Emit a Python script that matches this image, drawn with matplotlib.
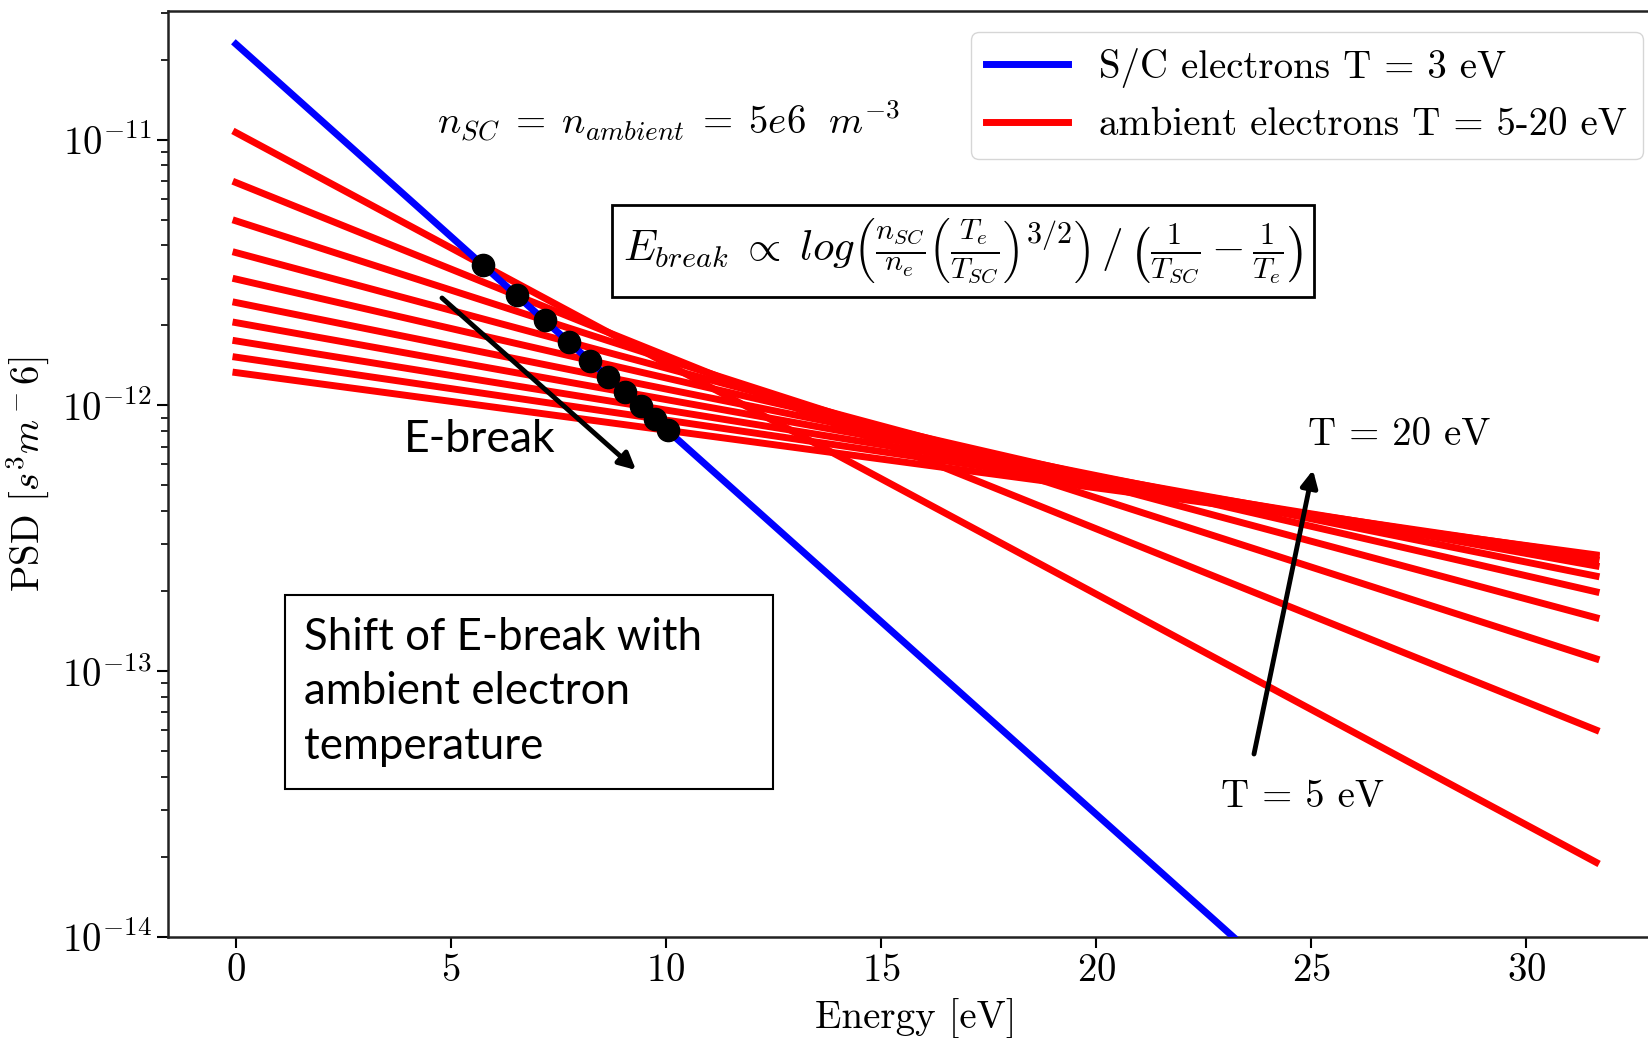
import numpy as np
import matplotlib
matplotlib.use('Agg')
import matplotlib.pyplot as plt
from matplotlib.patches import Rectangle

plt.rcParams['font.family'] = 'serif'
plt.rcParams['font.serif'] = ['cmr10']
plt.rcParams['mathtext.fontset'] = 'cm'
plt.rcParams['axes.unicode_minus'] = False
plt.rcParams['axes.formatter.use_mathtext'] = True

# energy range of the curves [eV]
E_ends = [0.0, 31.62]

# S/C electrons, T = 3 eV (PSD at both ends, straight on log scale)
sc_psd = [2.29e-11, 6.0e-16]

# ambient electrons, T = 5 ... 20 eV
amb_T = [5.0, 6.67, 8.33, 10.0, 11.67, 13.33, 15.0, 16.67, 18.33, 20.0]
amb_psd_start = [1.064e-11, 6.9e-12, 4.95e-12, 3.76e-12, 2.99e-12,
                 2.44e-12, 2.05e-12, 1.75e-12, 1.52e-12, 1.33e-12]
amb_psd_end = [1.91e-14, 6.01e-14, 1.114e-13, 1.59e-13, 1.99e-13,
               2.28e-13, 2.49e-13, 2.63e-13, 2.71e-13, 2.74e-13]

# E-break points (crossing of each red curve with the blue one)
ebreak_E = [5.75, 6.53, 7.18, 7.74, 8.23, 8.66, 9.05, 9.41, 9.74, 10.04]
ebreak_psd = [3.37e-12, 2.60e-12, 2.09e-12, 1.74e-12, 1.47e-12,
              1.28e-12, 1.12e-12, 0.994e-12, 0.890e-12, 0.806e-12]

W, H = 1649, 1038
fig = plt.figure(figsize=(W/100., H/100.), dpi=100)

def px(x, y):
    # pixel position in the picture -> figure fraction
    return (x/float(W), 1.0 - y/float(H))

ax = fig.add_axes([168./W, 1 - 937./H, (1664. - 168.)/W, (937. - 11.)/H])

ax.plot(E_ends, sc_psd, color='blue', lw=5, label='S/C electrons T = 3 eV', zorder=3)
for i in range(len(amb_T)):
    lab = 'ambient electrons T = 5-20 eV' if i == 0 else None
    ax.plot(E_ends, [amb_psd_start[i], amb_psd_end[i]], color='red', lw=5, label=lab, zorder=2)
ax.plot(ebreak_E, ebreak_psd, 'o', color='black', ms=16, zorder=4)

ax.set_yscale('log')
ax.set_ylim(1e-14, 3.05e-11)
ax.set_xlim(-1.58, 33.2)
ax.set_xticks([0, 5, 10, 15, 20, 25, 30])

ax.tick_params(axis='both', which='major', labelsize=28, direction='out', length=8, width=1.5)
ax.tick_params(axis='y', which='minor', direction='out', length=5, width=1.2)
for s in ax.spines.values():
    s.set_linewidth(1.8)
    s.set_color('#222222')

ax.set_xlabel('Energy [eV]', fontsize=28, labelpad=7)
ax.set_ylabel(r'PSD $[s^3m^-6]$', fontsize=28, labelpad=8)

leg = ax.legend(loc='upper right', fontsize=28, borderaxespad=0.55, fancybox=True,
                framealpha=0.8, handlelength=2.1)

# annotations
fig.text(*px(669, 121), r'$n_{SC} \;=\; n_{ambient} \;=\; 5e6\ \ m^{-3}$', fontsize=28,
         ha='center', va='center')
fig.text(*px(963, 251),
         r'$E_{break} \;\propto\; log\left(\frac{n_{SC}}{n_e}\left(\frac{T_e}{T_{SC}}\right)^{3/2}\right) \,/\, \left(\frac{1}{T_{SC}} - \frac{1}{T_e}\right)$',
         fontsize=31, ha='center', va='center',
         bbox=dict(boxstyle='square,pad=0.25', fc='white', ec='black', lw=2))
fig.text(*px(1399, 435), 'T = 20 eV', fontsize=28, ha='center', va='center')
fig.text(*px(1303, 797), 'T = 5 eV', fontsize=28, ha='center', va='center')

cal = ['Lato', 'DejaVu Sans']
fig.text(*px(480, 440), 'E-break', fontsize=32, family=cal, ha='center', va='center')
fig.patches.append(Rectangle(px(285, 789), (773. - 285.)/W, (789. - 595.)/H,
                             transform=fig.transFigure, fc='white', ec='black', lw=1.5,
                             zorder=5))
fig.text(*px(304, 692), 'Shift of E-break with\nambient electron\ntemperature', fontsize=31.5,
         family=cal, ha='left', va='center', linespacing=1.42, zorder=6)

aprops = dict(arrowstyle='-|>', color='black', lw=3.5, mutation_scale=25, shrinkA=0, shrinkB=0)
ax.annotate('', xy=px(636, 470), xytext=px(442, 298), xycoords='figure fraction',
            textcoords='figure fraction', arrowprops=aprops)
ax.annotate('', xy=px(1313, 470), xytext=px(1254, 754), xycoords='figure fraction',
            textcoords='figure fraction', arrowprops=aprops)

plt.savefig('out.png', dpi=100)
